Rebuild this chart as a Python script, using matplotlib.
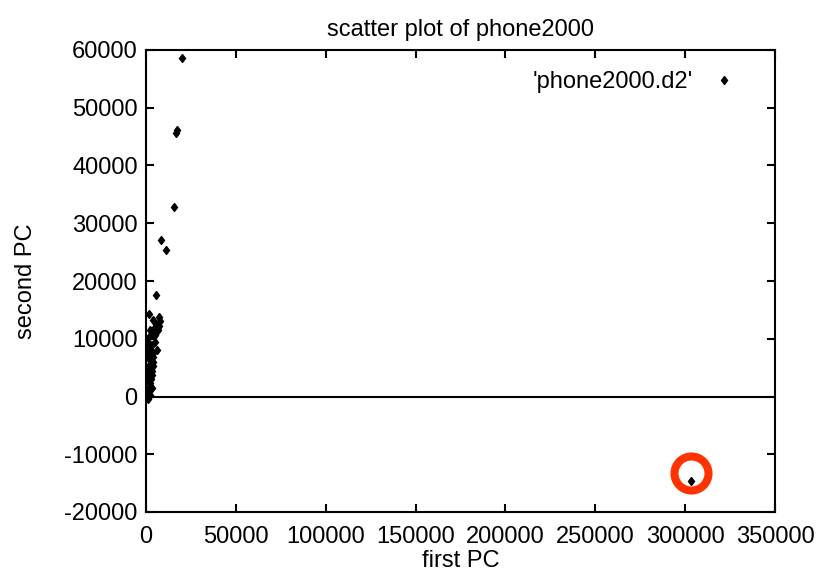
import matplotlib
matplotlib.use("Agg")
import matplotlib.pyplot as plt
import matplotlib.transforms as mtransforms

plt.rcParams['font.family'] = ['Liberation Sans', 'DejaVu Sans']

title = "scatter plot of phone2000"
xlabel = "first PC"
ylabel = "second PC"
legend_label = "'phone2000.d2'"

x_ticks = [0, 50000, 100000, 150000, 200000, 250000, 300000, 350000]
y_ticks = [-20000, -10000, 0, 10000, 20000, 30000, 40000, 50000, 60000]

first_pc = [19800, 17000, 16600, 15700, 8200, 10900, 5600,
            1700, 7400, 7800, 7000, 6500, 2300, 5200, 1700, 5000, 1700, 6200,
            4100, 4000, 4000, 3800, 3500, 3300, 3000, 2500, 2000, 1500, 800,
            300, 600, 1200, 1800, 2400, 2900, 3300, 2600, 4300, 1000, 700,
            1500, 2000, 900, 500, 2200, 3500, 4800, 5800, 3800, 200, 1000, 100,
            303000]
second_pc = [58700, 46200, 45600, 32900, 27100, 25400, 17500,
             14200, 13800, 13000, 12200, 11600, 11600, 12000, 10300, 9500, 8800, 8100,
             7500, 6800, 6000, 5200, 4500, 3800, 3100, 2400, 1800, 1200, 600,
             200, 1000, 2700, 4100, 5600, 7100, 9000, 10700, 11100, 3500, 5000,
             6500, 8000, 9500, 7500, 300, 1500, 10600, 12600, 13300, -300, -500, 400,
             -14650]
highlight_index = len(first_pc) - 1

W, H = 820, 573
fig = plt.figure(figsize=(W / 100, H / 100), dpi=100)
ax = fig.add_axes([146 / W, 1 - 512 / H, (775 - 146) / W, (512 - 50) / H])

ax.plot(first_pc, second_pc, linestyle='none', marker='d', markersize=4.5,
        color='black', label=legend_label)
ax.axhline(0, color='black', lw=1.5, zorder=1)

# highlight ring around the outlier
off = mtransforms.offset_copy(ax.transData, fig=fig, x=0.5, y=5.5, units='points')
ax.plot([first_pc[highlight_index]], [second_pc[highlight_index]], marker='o',
        markersize=24.5, markerfacecolor='none', markeredgecolor='#ff3300',
        markeredgewidth=5.8, transform=off, clip_on=False)

ax.set_xlim(0, 350000)
ax.set_ylim(-20000, 60000)
ax.set_xticks(x_ticks)
ax.set_yticks(y_ticks)
ax.set_xticklabels([str(v) for v in x_ticks])
ax.set_yticklabels([str(v) for v in y_ticks])
ax.tick_params(direction='in', top=True, right=True, length=6, width=1.5,
               labelsize=17)
ax.tick_params(axis='x', pad=10)
ax.tick_params(axis='y', pad=6)
for s in ax.spines.values():
    s.set_linewidth(1.5)

ax.set_title(title, fontsize=17, pad=10)
ax.set_xlabel(xlabel, fontsize=17, labelpad=1.5)
ax.set_ylabel(ylabel, fontsize=17, labelpad=20)

ax.legend(loc='upper right', frameon=False, markerfirst=False, fontsize=17,
          handlelength=1.0, handletextpad=0.8, borderaxespad=0.0,
          bbox_to_anchor=(0.952, 0.975))

fig.savefig('out.png', dpi=100)
